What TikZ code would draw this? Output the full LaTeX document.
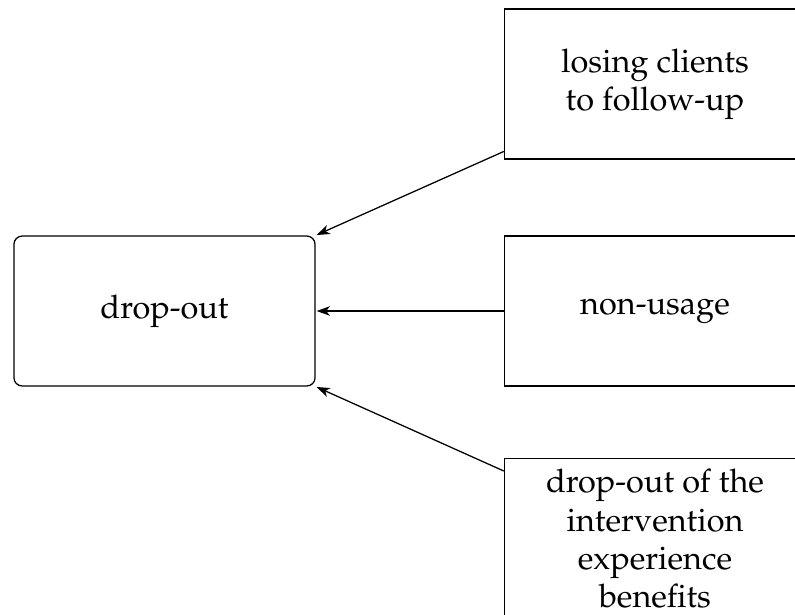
\documentclass[tikz,border=0pt]{standalone}
\usepackage[T1]{fontenc}
\usepackage{mathpazo}
\usetikzlibrary{arrows.meta}

\tikzset{
  factor/.style={draw, rectangle, align=center, minimum width=95pt, minimum height=47.3pt, inner sep=3.33pt,
    font=\fontsize{10.25pt}{12.1pt}\selectfont},
  outcome/.style={factor, rounded corners=2.6pt},
  cause/.style={-{Stealth[length=4.2pt,width=3pt,inset=1.2pt]}, shorten >=0.3pt}
}

\begin{document}
\begin{tikzpicture}[x=0.3155pt, y=-0.3155pt]
  % canvas (pixel-like units)
  \useasboundingbox (0,0) rectangle (795,614);

  % outcome on the left
  \node[outcome] (drop) at (164.5,311) {drop-out};

  % contributing factors on the right
  \node[factor] (lose) at (655,84) {losing clients\\to follow-up};
  \node[factor] (nonuse) at (655,311) {non-usage};
  \node[factor, anchor=north] (benef) at (655,458) {drop-out of the\\intervention\\experience\\benefits};

  % connectors
  \draw[cause] (lose) -- (drop.north east);
  \draw[cause] (nonuse) -- (drop.east);
  \draw[cause] (benef) -- (drop.south east);
\end{tikzpicture}
\end{document}
